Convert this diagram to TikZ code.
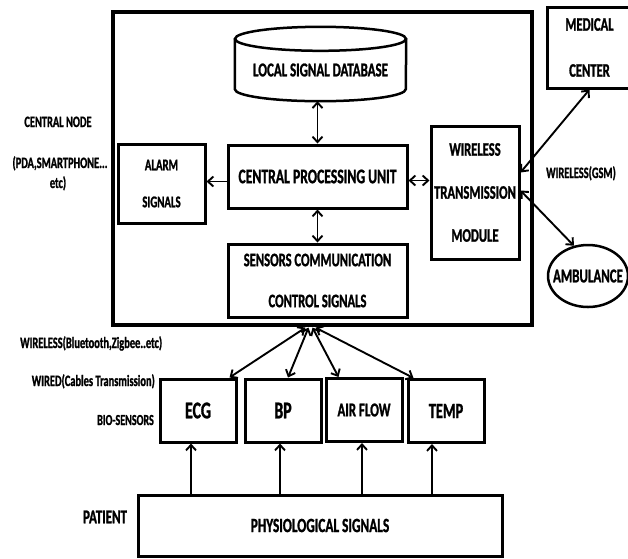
\documentclass[tikz,border=0pt]{standalone}
\usepackage{fontspec}
\setmainfont{Carlito}[UprightFont=* Bold,BoldFont=* Bold,FakeStretch=0.66,FakeBold=1.2]
\usetikzlibrary{arrows.meta,shapes.geometric,calc}
\newcommand\myfs[2]{\fontsize{#1}{#2}\selectfont}
\begin{document}
\begin{tikzpicture}[x=1pt,y=-1pt,
  box/.style={draw,line width=3pt,inner sep=0pt,align=center},
  sensor/.style={box,minimum width=76pt,minimum height=63pt,font=\myfs{24}{26}},
  tip/.tip={Straight Barb[length=5.5pt,width=10pt]},
  conn/.style={line width=1.9pt,tip-tip},
  oneway/.style={line width=1.9pt,-tip},
  lbl/.style={inner sep=0pt,anchor=base},
  dbline/.style={line width=2.5pt}]
\useasboundingbox (0,0) rectangle (628,558);

% central node frame
\node[box,line width=3.2pt,minimum width=419pt,minimum height=313pt] (outer) at (322.5,168.5) {};

% database cylinder
\node[minimum width=171pt,minimum height=62pt,inner sep=0pt,font=\myfs{19.6}{22}] (db) at (320.5,70) {LOCAL SIGNAL DATABASE};
\draw[dbline] (db.north west) -- ([yshift=12pt]db.south west)
  arc[start angle=180,end angle=360,x radius=85.5pt,y radius=12pt] -- (db.north east);
\draw[dbline] (db.north) ellipse[x radius=85.5pt,y radius=12pt];

% inner boxes
\node[box,minimum width=179pt,minimum height=63pt,font=\myfs{20.7}{22}] (cpu) at (317.5,176.5) {CENTRAL PROCESSING UNIT};
\node[box,minimum width=87pt,minimum height=79pt,font=\myfs{16.4}{37}] (alarm) at (161.5,183.5) {ALARM\\SIGNALS};
\node[box,minimum width=88pt,minimum height=133pt,font=\myfs{19.1}{43}] (wtm) at (475,192.5) {WIRELESS\\TRANSMISSION\\MODULE};
\node[box,minimum width=179pt,minimum height=73pt,font=\myfs{19.1}{41}] (scs) at (317.5,280.5) {SENSORS COMMUNICATION\\CONTROL SIGNALS};

% outside destinations
\node[box,minimum width=85pt,minimum height=81pt,font=\myfs{19.1}{46}] (med) at (589.5,47.5) {MEDICAL\\CENTER};
\node[draw,ellipse,line width=2.5pt,minimum width=80pt,minimum height=62pt,inner sep=0pt] (amb) at (588,276) {};
\node[inner sep=0pt,font=\myfs{19.6}{22}] (ambt) at (amb.center) {AMBULANCE};

% sensors
\node[sensor] (ecg) at (198,410.5) {ECG};
\node[sensor] (bp) at (283,410.5) {BP};
\node[sensor,font=\myfs{19.6}{22}] (air) at (364,410) {AIR FLOW};
\node[sensor,font=\myfs{21.8}{24}] (temp) at (446,411) {TEMP};

% patient
\node[box,minimum width=364pt,minimum height=61pt,font=\myfs{20.2}{22}] (phy) at (320,525.5) {PHYSIOLOGICAL SIGNALS};

% labels
\node[lbl,font=\myfs{15.8}{18}] (cn1) at (58,127) {CENTRAL NODE};
\node[lbl,font=\myfs{15.8}{18}] (cn2) at (60,168) {(PDA,SMARTPHONE...};
\node[lbl,font=\myfs{15.8}{18}] (cn3) at (58,188) {etc)};
\node[lbl,font=\myfs{15.8}{18}] (gsm) at (581,178) {WIRELESS(GSM)};
\node[lbl,anchor=base west,font=\myfs{15.8}{18}] (wbt) at (20,348) {WIRELESS(Bluetooth,Zigbee..etc)};
\node[lbl,anchor=base east,font=\myfs{15.8}{18}] (wrd) at (155,386) {WIRED(Cables Transmission)};
\node[lbl,anchor=base east,font=\myfs{15.3}{18}] (bio) at (154,425) {BIO-SENSORS};
\node[lbl,font=\myfs{19.6}{22}] (pat) at (105,523.3) {PATIENT};

% connectors inside central node
\draw[conn] (cpu.north) -- (cpu.north |- db.south);
\draw[oneway] ([yshift=-5pt]cpu.west) -- ([yshift=-5pt]cpu.west -| alarm.east);
\draw[conn] ([yshift=-4pt]cpu.east) -- ([yshift=-4pt]cpu.east -| wtm.west);
\draw[conn] (cpu.south) -- (scs.north);

% GSM links
\draw[conn] ([yshift=20pt]wtm.east) -- (med.south);
\draw[conn] ([yshift=2pt]wtm.east) -- (amb.115);

% sensor links
\coordinate (hub) at ($(outer.south -| scs.south)+(-7,1)$);
\draw[conn] ([xshift=-5pt]hub) -- ([xshift=-8pt]ecg.north east);
\draw[conn] ([xshift=-2pt]hub) -- ([xshift=5pt]bp.north);
\draw[conn] ([xshift=2pt]hub) -- ([xshift=14pt]air.north west);
\draw[conn] ([xshift=5pt]hub) -- ([xshift=7pt]temp.north west);

% patient to sensors
\draw[oneway] ($(ecg.south |- phy.north)+(-7,0)$) -- ($(ecg.south)+(-7,0)$);
\draw[oneway] ($(bp.south |- phy.north)+(-3,0)$) -- ($(bp.south)+(-3,0)$);
\draw[oneway] ($(air.south |- phy.north)+(-2,0)$) -- ($(air.south)+(-2,0)$);
\draw[oneway] ($(temp.south |- phy.north)+(-14,0)$) -- ($(temp.south)+(-14,0)$);
\end{tikzpicture}
\end{document}
